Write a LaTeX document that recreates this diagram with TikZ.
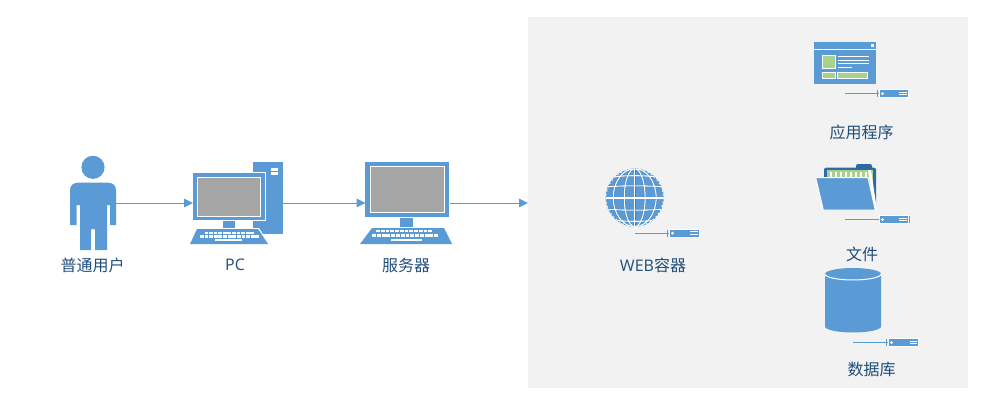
\documentclass[tikz,border=0pt]{standalone}
\usepackage{fontspec}
\setmainfont{Open Sans}
\newfontfamily\cjk{Noto Sans CJK SC}
\usetikzlibrary{arrows.meta}
\definecolor{iconblue}{HTML}{5B9BD5}
\definecolor{darkblue}{HTML}{2E6BA4}
\definecolor{hairline}{HTML}{3F7FBF}
\definecolor{labelblue}{HTML}{1F4E79}
\definecolor{panelgray}{HTML}{F2F2F2}
\definecolor{screengray}{HTML}{A5A5A5}
\definecolor{leaf}{HTML}{A9D18E}
\tikzset{
  x=0.75pt,y=-0.75pt,
  slot/.style={inner sep=0pt,outer sep=0pt,draw=none,fill=none},
  icon/.style={fill=iconblue,draw=none},
  blank/.style={fill=white,draw=none},
  lab/.style={inner sep=0pt,text=labelblue,font=\fontsize{12pt}{14pt}\selectfont},
  flow/.style={draw=iconblue,line width=0.6pt,-{Triangle[length=6.6pt,width=6.4pt]}},
  wire/.style={draw=iconblue,line width=0.6pt},
  comp/.style={inner sep=0pt,outer sep=0pt,fill=iconblue,draw=white,line width=0.75pt},
}
\newcommand{\keyrow}[5]{% x0 x1 y0 y1 count
  \pgfmathsetmacro{\kw}{(#2-#1)/#5}
  \foreach \i in {1,...,#5}{
    \pgfmathsetmacro{\ka}{#1+(\i-1)*\kw}
    \pgfmathsetmacro{\kb}{#1+\i*\kw-0.8}
    \fill[white] (\ka,#3) rectangle (\kb,#4);
  }}
\newcommand{\compsym}[6]{% name x0(line) x1(rect left) x2(rect right) yc tickx
  \node[comp,minimum width={(#4-#3)*0.75pt},minimum height=6pt] (#1) at ({(#3+#4)/2},#5) {};
  \coordinate (#1w) at (#2,#5);
  \draw[wire] (#1w) -- (#1.west);
  \draw[iconblue,line width=0.75pt] (#6,#5-3.5) -- (#6,#5+3.5);
  \fill[white] (#3+3.5,#5) circle (1.5);
  \draw[white,line width=0.6pt] (#4-9,#5-1.4) -- (#4-1.5,#5-1.4) (#4-9,#5+1.2) -- (#4-1.5,#5+1.2);
}
\begin{document}
\begin{tikzpicture}
\useasboundingbox (0,0) rectangle (993,410);
% panel
\node[inner sep=0pt,outer sep=0pt,fill=panelgray,minimum width=330pt,minimum height=278.25pt] (panel) at (748,202.5) {};

% slots for connectors
\node[slot,minimum width=34.5pt,minimum height=45pt] (user) at (93,203) {};
\node[slot,minimum width=67.5pt,minimum height=60pt] (pc) at (238,203) {};
\node[slot,minimum width=63pt,minimum height=60pt] (server) at (407.5,203) {};

% person
\fill[icon] (93,167.3) circle (11.6);
\fill[icon] (70,190) .. controls (70,185) and (74,182.7) .. (78,182.7) -- (108,182.7)
  .. controls (112,182.7) and (116,185) .. (116,190) -- (116,225) -- (110,225) -- (110,205) -- (107,205)
  -- (107,250) -- (95,250) -- (95,230) .. controls (95,229) and (94,229) .. (93,229)
  .. controls (92,229) and (91,229) .. (91,230) -- (91,250) -- (80,250) -- (80,205) -- (76.7,205) -- (76.7,225) -- (70,225) -- cycle;

% pc
\fill[icon] (253,162) rectangle (283,234);
\fill[white] (271,168) rectangle (278,170.6);
\fill[white] (271,172) rectangle (278,174.6);
\fill[white] (192,172) rectangle (266,221);
\fill[icon] (193,173) rectangle (265,220);
\fill[white] (197,177) rectangle (261.3,217);
\fill[screengray] (198,178) rectangle (260.3,216);
\fill[icon] (223,221) rectangle (235,228);
\fill[white] (196,228) -- (259,228) -- (270,245) -- (188,245) -- cycle;
\fill[icon] (197,229) -- (258,229) -- (268,244) -- (190,244) -- cycle;
\keyrow{204.5}{255}{231.7}{233.7}{11}
\keyrow{200}{260}{235.4}{237.6}{13}
\fill[white] (215,238.7) rectangle (242,241.3);

% server
\fill[icon] (365,162) rectangle (449,217);
\fill[white] (370,166) rectangle (445,212.7);
\fill[screengray] (371,167) rectangle (444,211.7);
\fill[icon] (400,218) rectangle (413,227);
\fill[icon] (372,228) -- (444,228) -- (452,244) -- (360,244) -- cycle;
\keyrow{376}{433}{229.6}{232}{12}
\keyrow{372}{439}{234}{236.6}{14}
\fill[white] (391,238.7) rectangle (422,241.3);

% connectors
\draw[flow] (user.east) -- (pc.west);
\draw[flow] (pc.east) -- (server.west);
\draw[flow] (server.east) -- (server.east -| panel.west);

% labels
\node[lab] (l1) at (92.5,265) {\cjk 普通用户};
\node[lab] (l2) at (235,265) {PC};
\node[lab] (l3) at (406,265) {\cjk 服务器};
\node[lab] (l4) at (653,265) {WEB{\cjk 容器}};
\node[lab] (l5) at (861.5,132) {\cjk 应用程序};
\node[lab] (l6) at (862,254) {\cjk 文件};
\node[lab] (l7) at (871.5,369) {\cjk 数据库};

% globe
\begin{scope}
\clip (634.7,197.7) circle (29);
\fill[icon] (634.7,197.7) circle (29);
\foreach \col/\w in {hairline/1.5pt,white/0.8pt}{
  \foreach \k in {0.36,0.74}{
    \draw[\col,line width=\w] (634.7,197.7) ellipse ({29*\k} and 29);
  }
  \draw[\col,line width=\w] (634.7,168) -- (634.7,227);
  \foreach \y/\b in {178/-3,187/-1.5,198/0,209/1.5,219/3}{
    \draw[\col,line width=\w] (604,\y) .. controls (620,\y+\b) and (650,\y+\b) .. (666,\y);
  }
}
\end{scope}
\draw[white,line width=0.6pt,dash pattern=on 1pt off 2pt] (634.7,197.7) circle (28.6);
\compsym{c1}{635}{669}{699}{233.2}{667.5}

% app window
\fill[icon] (814.3,41.7) rectangle (875.7,84.3);
\fill[white] (814.3,48.6) rectangle (875.7,49.6);
\fill[white] (871,44) rectangle (874,47);
\fill[white] (822,55) rectangle (835.5,69.5);
\fill[leaf] (823,56) rectangle (834.5,68.5);
\fill[white] (822,71.7) rectangle (835.5,79);
\fill[leaf] (823,72.7) rectangle (834.5,78);
\fill[white] (837,71.7) rectangle (868,79);
\fill[leaf] (838,72.7) rectangle (867,78);
\draw[white,line width=0.7pt] (838,56.3) -- (869,56.3) (838,60) -- (869,60) (838,63.7) -- (869,63.7) (838,67.3) -- (852,67.3);
\compsym{c2}{845}{879}{908.3}{93.6}{877.3}

% folder
\fill[darkblue,rounded corners=1.5pt] (856,164) rectangle (872,172);
\fill[darkblue,rounded corners=1.5pt] (824,167.7) rectangle (876,210);
\fill[leaf] (826.7,170) rectangle (873.3,205);
\foreach \i in {0,...,7}{ \fill[white] (830+\i*5,172.3) rectangle (832.2+\i*5,178); }
\fill[white] (868,170) -- (871,170) -- (877,210) -- (874,210) -- cycle;
\fill[iconblue,draw=white,line width=0.75pt,line join=round] (815.7,177.7) -- (868,177.7) -- (875.3,210) -- (823.3,210) -- cycle;
\compsym{c3}{845}{879}{908.3}{219.6}{909.5}

% database
\fill[icon] (825,274) -- (825,326.5) arc[start angle=180,end angle=360,x radius=28,y radius=-6] -- (881,274) -- cycle;
\fill[icon] (853,274) ellipse (28 and 6);
\draw[white,line width=0.75pt] (825,274) arc[start angle=180,end angle=360,x radius=28,y radius=-6];
\compsym{c4}{853}{888}{918.5}{342.6}{886.7}
\end{tikzpicture}
\end{document}
